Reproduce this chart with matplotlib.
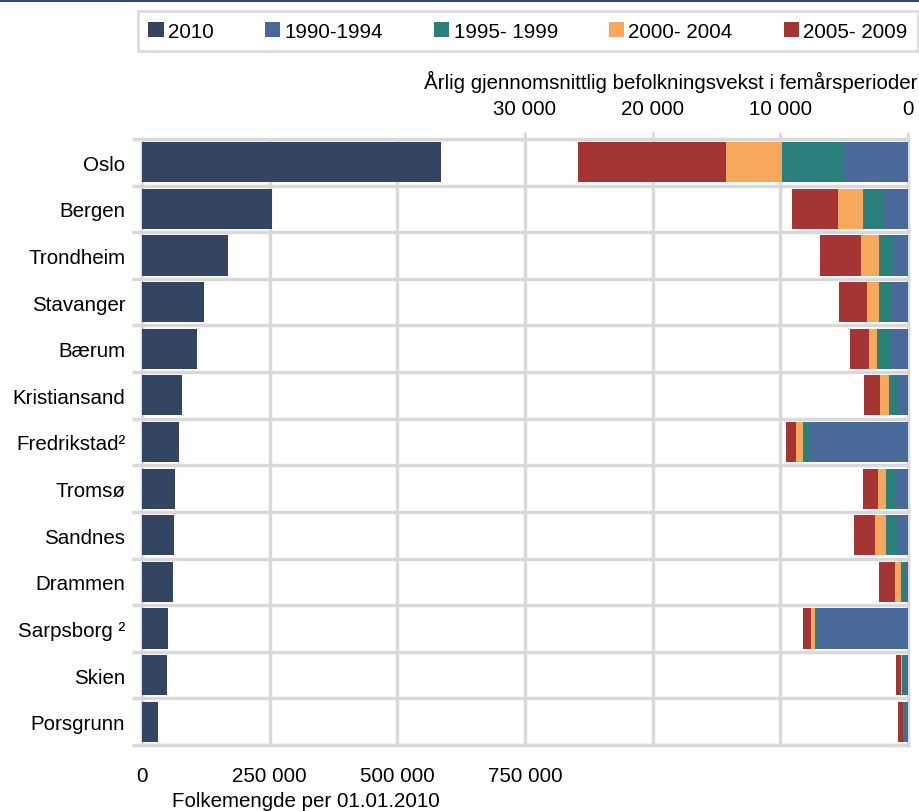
import matplotlib
matplotlib.use('Agg')
import matplotlib.pyplot as plt
import numpy as np
from matplotlib.patches import Rectangle

plt.rcParams['font.family'] = ['Liberation Sans', 'DejaVu Sans']

municipalities = ["Oslo", "Bergen", "Trondheim", "Stavanger", "Bærum", "Kristiansand",
                  "Fredrikstad²", "Tromsø", "Sandnes", "Drammen", "Sarpsborg ²", "Skien", "Porsgrunn"]
pop_2010 = [585000, 255000, 169000, 121500, 108500, 79000, 71500, 65000, 62500, 60500, 50000, 48500, 32000]
growth_1990_1994 = [5035, 1980, 1150, 1220, 1280, 750, 7750, 1020, 890, 130, 7130, 200, 200]
growth_1995_1999 = [4800, 1570, 1150, 1050, 1170, 760, 490, 700, 840, 450, 130, 235, 190]
growth_2000_2004 = [4460, 1900, 1410, 960, 600, 700, 520, 630, 890, 420, 310, 130, 20]
growth_2005_2009 = [11570, 3650, 3160, 2140, 1490, 1200, 810, 1140, 1590, 1280, 660, 340, 390]

series_labels = ["2010", "1990-1994", "1995- 1999", "2000- 2004", "2005- 2009"]
colors = ["#344564", "#4a699b", "#2b807c", "#f6a95c", "#a53434"]

pop_ticks = [0, 250000, 500000, 750000]
growth_ticks = [0, 10000, 20000, 30000]

GRID = "#d9d9d9"
FS = 14.8

fig = plt.figure(figsize=(9.2, 8.12), dpi=100)
ax = fig.add_axes([142/920, 1-746/812, 766/920, 606/812])

y = np.arange(len(municipalities))
h = 0.86

b0 = ax.barh(y, pop_2010, height=h, color=colors[0], zorder=3)
ax.set_xlim(0, 1500000)
ax.set_ylim(len(municipalities)-0.5, -0.5)

grid_pos = np.arange(0, 1500001, 250000)
ax.set_xticks(grid_pos)
ax.set_xticklabels([f"{int(v):,}".replace(",", " ") if v in pop_ticks else "" for v in grid_pos])
ax.tick_params(axis='x', which='major', length=0, pad=15, labelsize=FS)
ax.grid(axis='x', which='major', color=GRID, lw=2.5, zorder=0)

ax.set_yticks(y)
ax.set_yticklabels(municipalities)
ax.set_yticks(np.arange(-0.5, len(municipalities)), minor=True)
ax.tick_params(axis='y', which='major', length=0, pad=12, labelsize=FS)
ax.tick_params(axis='y', which='minor', length=7, width=2.5, color=GRID)
ax.grid(axis='y', which='minor', color=GRID, lw=2.5, zorder=0)
ax.set_axisbelow(True)
for s in ax.spines.values():
    s.set_color(GRID)
    s.set_linewidth(2.5)

ax.set_xlabel("Folkemengde per 01.01.2010", fontsize=FS)
ax.xaxis.set_label_coords(0.214, -0.076)

ax2 = ax.twiny()
ax2.set_xlim(60000, 0)
left = np.zeros(len(municipalities))
handles = [b0]
for vals, c in zip([growth_1990_1994, growth_1995_1999, growth_2000_2004, growth_2005_2009], colors[1:]):
    b = ax2.barh(y, vals, left=left, height=h, color=c, zorder=3)
    handles.append(b)
    left += np.array(vals)
ax2.set_xticks(growth_ticks)
ax2.set_xticklabels([f"{int(v):,}".replace(",", " ") for v in growth_ticks])
ax2.tick_params(axis='x', length=5, width=2, color=GRID, pad=10, labelsize=FS)
for s in ax2.spines.values():
    s.set_visible(False)

fig.text(918/920, 1-82/812, "Årlig gjennomsnittlig befolkningsvekst i femårsperioder",
         ha='right', va='center', fontsize=FS)

leg = fig.legend(handles, series_labels, ncol=5, loc='lower left',
                 bbox_to_anchor=(138/920, 1-52/812, 780/920, 39/812), mode='expand',
                 fontsize=FS, frameon=True, fancybox=False, handlelength=0.75,
                 handleheight=0.75, handletextpad=0.2, borderaxespad=0, borderpad=0.5)
leg.get_frame().set_edgecolor("#d4d4d4")
leg.get_frame().set_linewidth(2)

fig.add_artist(Rectangle((0, 1-3/812), 1, 3/812, transform=fig.transFigure,
                         color="#2f4d7e", lw=0))

fig.savefig("out.png", dpi=100)
